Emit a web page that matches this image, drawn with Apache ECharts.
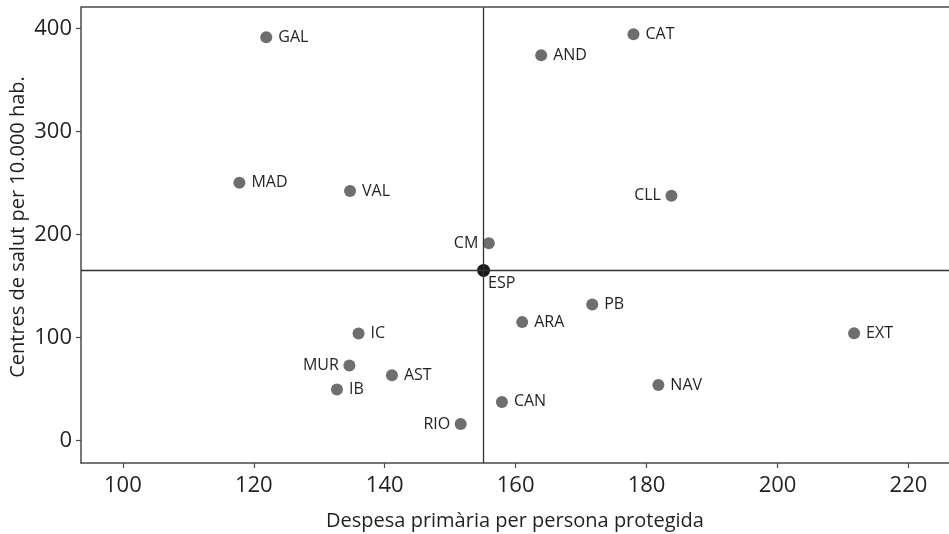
<!DOCTYPE html>
<html>
<head>
<meta charset="utf-8">
<script src="https://cdn.jsdelivr.net/npm/echarts@6/dist/echarts.min.js"></script>
<style>
  html, body { margin: 0; padding: 0; background: #fff; }
  #chart { width: 949px; height: 534px; }
</style>
</head>
<body>
<div id="chart"></div>
<script>
// Autonomous communities: primary-care spending per protected person vs health centres
const regions  = ['GAL', 'MAD', 'VAL', 'AND', 'CAT', 'CLL', 'CM', 'PB', 'ARA', 'NAV', 'IC', 'MUR', 'AST', 'IB', 'RIO', 'CAN', 'EXT'];
const spending = [121.9, 117.8, 134.7, 163.9, 178.0, 183.8, 155.9, 171.7, 161.0, 181.8, 136.0, 134.6, 141.1, 132.7, 151.6, 157.9, 211.7];
const centres  = [391.4, 250.0, 242.0, 373.9, 394.3, 237.4, 191.2, 131.9, 114.7, 53.7, 103.7, 72.6, 63.2, 49.3, 15.8, 37.2, 104.0];
const labelSide = ['right', 'right', 'right', 'right', 'right', 'left', 'left', 'right', 'right', 'right', 'right', 'left', 'right', 'right', 'left', 'right', 'right'];

// Spain as a whole
const espName = 'ESP';
const espSpending = 155.1;
const espCentres = 164.9;

const xTicks = [100, 120, 140, 160, 180, 200, 220];
const yTicks = [0, 100, 200, 300, 400];

const xTitle = 'Despesa primària per persona protegida';
const yTitle = 'Centres de salut per 10.000 hab.';

const FONT = '"Open Sans", "Noto Sans", sans-serif';
const TEXT = '#231f20';
const AXIS = '#4a4a4a';

const chart = echarts.init(document.getElementById('chart'), null, { renderer: 'canvas' });

const points = regions.map((name, i) => ({
  name: name,
  value: [spending[i], centres[i]],
  label: { position: labelSide[i], distance: labelSide[i] === 'left' ? 4.5 : 6 }
}));

chart.setOption({
  animation: false,
  backgroundColor: '#fff',
  grid: { left: 81, right: 0, top: 7, bottom: 71, containLabel: false, outerBoundsMode: 'none', show: false },
  xAxis: {
    type: 'value',
    min: 93.6,
    max: 226.2,
    splitLine: { show: false },
    axisLine: { show: true, onZero: false, lineStyle: { color: AXIS, width: 1.5 } },
    axisTick: { show: true, length: 5, customValues: xTicks, lineStyle: { color: AXIS, width: 1.2 } },
    axisLabel: { customValues: xTicks, margin: 12, color: TEXT, fontSize: 22, fontFamily: FONT },
    name: xTitle,
    nameLocation: 'middle',
    nameGap: 48,
    nameTextStyle: { color: TEXT, fontSize: 20, fontFamily: FONT }
  },
  yAxis: {
    type: 'value',
    min: -22.1,
    max: 420.7,
    splitLine: { show: false },
    axisLine: { show: true, onZero: false, lineStyle: { color: AXIS, width: 1.5 } },
    axisTick: { show: true, length: 5, customValues: yTicks, lineStyle: { color: AXIS, width: 1.2 } },
    axisLabel: { customValues: yTicks, margin: 9, color: TEXT, fontSize: 22, fontFamily: FONT }
  },
  graphic: [
    // top frame line
    { type: 'line', shape: { x1: 81, y1: 7, x2: 949, y2: 7 }, style: { stroke: AXIS, lineWidth: 1.5 }, z: 10 },
    { type: 'text', x: 18, y: 227, rotation: Math.PI / 2, style: { text: yTitle, fill: TEXT, font: '20px ' + FONT, textAlign: 'center', textVerticalAlign: 'middle' } }
  ],
  series: [
    {
      type: 'scatter',
      symbolSize: 12,
      itemStyle: { color: '#6d6e71', opacity: 1 },
      label: {
        show: true,
        formatter: '{b}',
        color: TEXT,
        fontSize: 16,
        fontFamily: FONT
      },
      data: points,
      z: 3
    },
    {
      type: 'scatter',
      symbolSize: 13,
      itemStyle: { color: '#1a1a1a', opacity: 1 },
      label: {
        show: true,
        formatter: '{b}',
        position: [11, 12],
        align: 'left',
        verticalAlign: 'top',
        color: TEXT,
        fontSize: 16,
        fontFamily: FONT
      },
      data: [{ name: espName, value: [espSpending, espCentres] }],
      markLine: {
        silent: true,
        symbol: 'none',
        label: { show: false },
        lineStyle: { color: '#333', width: 1.3, type: 'solid' },
        data: [{ xAxis: espSpending }, { yAxis: espCentres }]
      },
      z: 4
    }
  ]
});
</script>
</body>
</html>
